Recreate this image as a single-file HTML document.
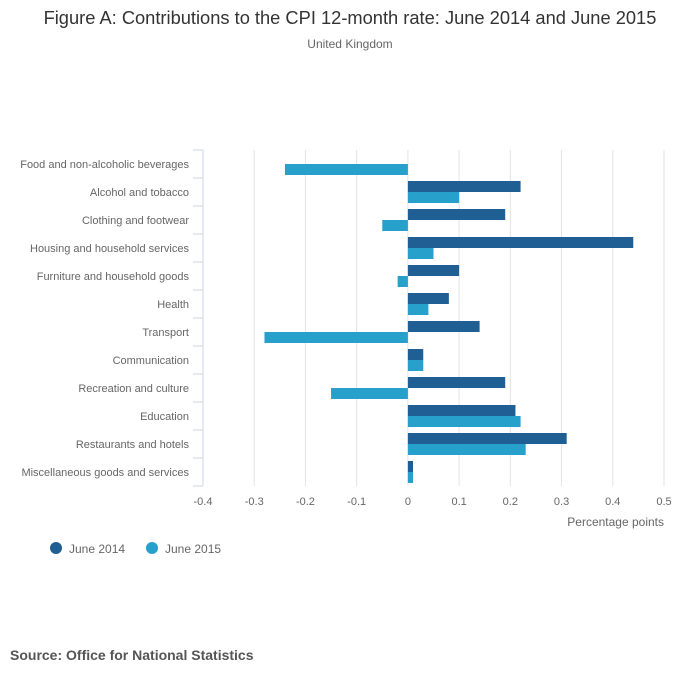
<!DOCTYPE html>
<html><head><meta charset="utf-8"><style>
body{margin:0;background:#fff;width:700px;height:682px;overflow:hidden;font-family:"Liberation Sans",sans-serif;}
svg text{font-family:"Liberation Sans",sans-serif;}
</style></head><body>
<svg id="chart" width="700" height="682" xmlns="http://www.w3.org/2000/svg">
<text x="350" y="24" text-anchor="middle" font-size="18.3" fill="#333">Figure A: Contributions to the CPI 12-month rate: June 2014 and June 2015</text>
<text x="350" y="48" text-anchor="middle" font-size="12" fill="#666">United Kingdom</text>
<g id="grid"></g><g id="bars"></g><g id="yaxis"></g><g id="xaxis"></g>
<text x="664" y="526" text-anchor="end" font-size="12" fill="#666">Percentage points</text>
<g>
<g><circle cx="56" cy="548" r="6" fill="#1f5f94"/><text x="69" y="553" font-size="12" fill="#666">June 2014</text></g>
<g><circle cx="152" cy="548" r="6" fill="#27a0cc"/><text x="165" y="553" font-size="12" fill="#666">June 2015</text></g>
</g>
<text x="10" y="660" font-size="14" font-weight="bold" fill="#555">Source: Office for National Statistics</text>
</svg>
<script>
const categories=["Food and non-alcoholic beverages","Alcohol and tobacco","Clothing and footwear","Housing and household services","Furniture and household goods","Health","Transport","Communication","Recreation and culture","Education","Restaurants and hotels","Miscellaneous goods and services"];
const june2014=[0,0.22,0.19,0.44,0.10,0.08,0.14,0.03,0.19,0.21,0.31,0.01];
const june2015=[-0.24,0.10,-0.05,0.05,-0.02,0.04,-0.28,0.03,-0.15,0.22,0.23,0.01];
const xTicks=[-0.4,-0.3,-0.2,-0.1,0,0.1,0.2,0.3,0.4,0.5];
const NS="http://www.w3.org/2000/svg";
const x0=203,x1=664,y0=150,band=28,yEnd=y0+band*categories.length;
const xs=v=>x0+(v+0.4)/0.9*(x1-x0);
function mk(t,a,p){const e=document.createElementNS(NS,t);for(const k in a)e.setAttribute(k,a[k]);p.appendChild(e);return e;}
const grid=document.getElementById('grid'),bars=document.getElementById('bars'),ya=document.getElementById('yaxis'),xa=document.getElementById('xaxis');
xTicks.forEach(t=>{
 const l=mk('line',{x1:xs(t),x2:xs(t),y1:y0,y2:yEnd,stroke:'#e2e2e2','stroke-width':1},grid);
 
 
 const tx=mk('text',{x:xs(t),y:505,'text-anchor':'middle','font-size':11,fill:'#666'},xa);
 tx.textContent=t;
 
 
});
mk('line',{x1:x0,x2:x0,y1:y0,y2:yEnd,stroke:'#ccd6e6'},ya);
for(let i=0;i<=categories.length;i++)mk('line',{x1:x0-10,x2:x0,y1:y0+i*band,y2:y0+i*band,stroke:'#ccd6e6'},ya);
categories.forEach((c,i)=>{
 const yc=y0+i*band+band/2;
 const t=mk('text',{x:189,y:yc+4,'text-anchor':'end','font-size':11,fill:'#666'},ya);
 t.textContent=c;
 
 
 [[june2014[i],'#1f5f94',yc-11],[june2015[i],'#27a0cc',yc]].forEach(([v,col,y])=>{
  if(v===0)return;
  const a=xs(Math.min(0,v)),b=xs(Math.max(0,v));
  const r=mk('rect',{x:a,y:y,width:b-a,height:11,fill:col},bars);
  
  
 });
});
</script>
</body></html>
